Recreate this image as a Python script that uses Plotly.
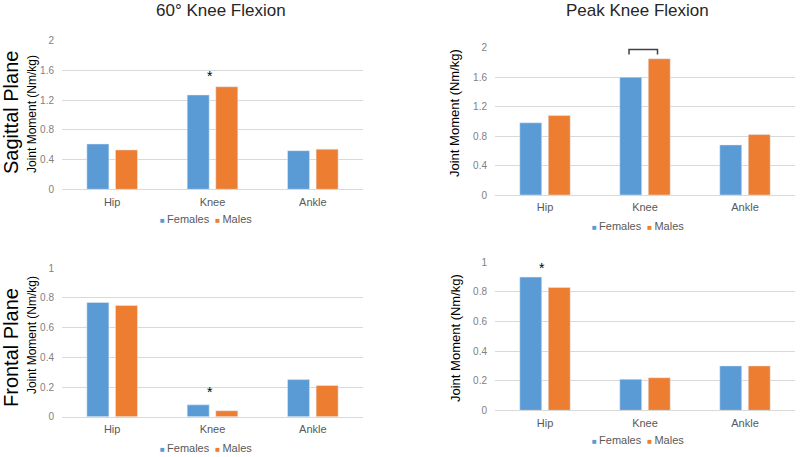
import plotly.graph_objects as go

categories = ["Hip", "Knee", "Ankle"]
series_names = ["Females", "Males"]

# 60° knee flexion
sag60_females = [0.61, 1.27, 0.52]
sag60_males = [0.53, 1.38, 0.54]
fro60_females = [0.77, 0.08, 0.25]
fro60_males = [0.75, 0.04, 0.21]

# Peak knee flexion
sagpk_females = [0.98, 1.60, 0.68]
sagpk_males = [1.08, 1.85, 0.82]
fropk_females = [0.90, 0.21, 0.30]
fropk_males = [0.83, 0.22, 0.30]

# significance markers
star_panels = ["1", "3", "4"]
star_cats = ["Knee", "Knee", "Hip"]
star_vals = [1.52, 0.164, 0.964]
bracket_cat_index = 1
bracket_top = 1.977
bracket_bottom = 1.909

BLUE = "#5B9BD5"
ORANGE = "#ED7D31"
COLORS = [BLUE, ORANGE]
GRID = "#D9D9D9"
FONT = "Liberation Sans, Arial, sans-serif"

W, H = 800, 457

def px_x(p):
    return p / W

def px_y(p):
    return 1 - p / H

fig = go.Figure()

panels = [
    ("1", sag60_females, sag60_males),
    ("2", sagpk_females, sagpk_males),
    ("3", fro60_females, fro60_males),
    ("4", fropk_females, fropk_males),
]
for suffix, f_vals, m_vals in panels:
    xa = "x" if suffix == "1" else "x" + suffix
    ya = "y" if suffix == "1" else "y" + suffix
    for name, vals, col in zip(series_names, [f_vals, m_vals], COLORS):
        fig.add_trace(go.Bar(x=categories, y=vals, name=name, marker_color=col,
                             xaxis=xa, yaxis=ya, offsetgroup=name, legendgroup=name,
                             showlegend=False))

left_x = [px_x(62), px_x(363)]
right_x = [px_x(495), px_x(795)]
domains = {
    "1": (left_x, [px_y(189.3), px_y(40.7)], [0, 2], 0.4),
    "2": (right_x, [px_y(195), px_y(47.7)], [0, 2], 0.4),
    "3": (left_x, [px_y(416.7), px_y(268.3)], [0, 1], 0.2),
    "4": (right_x, [px_y(410.3), px_y(262.3)], [0, 1], 0.2),
}
layout = {}
for s, (xd, yd, yr, dt) in domains.items():
    xk = "xaxis" if s == "1" else "xaxis" + s
    yk = "yaxis" if s == "1" else "yaxis" + s
    anchor_x = "y" if s == "1" else "y" + s
    anchor_y = "x" if s == "1" else "x" + s
    layout[xk] = dict(domain=xd, anchor=anchor_x, type="category", showline=True,
                      linecolor=GRID, linewidth=1, ticks="", showgrid=False,
                      automargin=False,
                      tickfont=dict(size=11, color="#595959", family=FONT),
                      ticklabelstandoff=2)
    layout[yk] = dict(domain=yd, anchor=anchor_y, range=yr, dtick=dt, showgrid=True,
                      gridcolor=GRID, gridwidth=1, zeroline=False, showline=False,
                      automargin=False,
                      ticks="", tickfont=dict(size=10, color="#7F7F7F", family=FONT),
                      ticklabelstandoff=7)

def ann(text, x, y, size, color="#000000", angle=0):
    return dict(text=text, x=px_x(x), y=px_y(y), xref="paper", yref="paper",
                xanchor="center", yanchor="middle", textangle=angle, showarrow=False,
                font=dict(size=size, color=color, family=FONT))

legend_text = "&nbsp;&nbsp;".join(
    f'<span style="color:{c};font-size:8px">■&nbsp;</span>{n}' for n, c in zip(series_names, COLORS)
)

annotations = [
    ann("60° Knee Flexion", 221, 11, 17, "#262626"),
    ann("Peak Knee Flexion", 637.5, 11, 17, "#262626"),
    ann("Sagittal Plane", 11, 113, 20, angle=-90),
    ann("Frontal Plane", 11, 348, 20, angle=-90),
    ann("Joint Moment (Nm/kg)", 32, 114, 12, angle=-90),
    ann("Joint Moment (Nm/kg)", 32, 335, 12, angle=-90),
    ann("Joint Moment (Nm/kg)", 454, 113, 13, angle=-90),
    ann("Joint Moment (Nm/kg)", 455, 338, 13, angle=-90),
    ann(legend_text, 206, 219, 11, "#595959"),
    ann(legend_text, 638, 226, 11, "#595959"),
    ann(legend_text, 206, 447.5, 11, "#595959"),
    ann(legend_text, 638, 440, 11, "#595959"),
]
for s, c, v in zip(star_panels, star_cats, star_vals):
    annotations.append(dict(text="*", x=c, y=v, xref="x" if s == "1" else "x" + s,
                            yref="y" if s == "1" else "y" + s, showarrow=False,
                            xshift=-3, yanchor="middle", xanchor="center",
                            font=dict(size=14, color="#000000", family=FONT)))

bx0 = bracket_cat_index - 0.16
bx1 = bracket_cat_index + 0.125
shapes = [dict(type="path", xref="x2", yref="y2",
               path=f"M {bx0},{bracket_bottom} L {bx0},{bracket_top} L {bx1},{bracket_top} L {bx1},{bracket_bottom}",
               line=dict(color="#404040", width=1.5))]

fig.update_layout(width=W, height=H, margin=dict(l=0, r=0, t=0, b=0),
                  paper_bgcolor="white", plot_bgcolor="white",
                  barmode="group", bargap=0.43, bargroupgap=0.23,
                  showlegend=False,
                  annotations=annotations, shapes=shapes,
                  font=dict(family=FONT), **layout)

# remove the browser's default 8px page margin so the figure fills the window
fig.write_html("out.html", config={"displayModeBar": False},
               post_script="document.body.style.margin='0';")
